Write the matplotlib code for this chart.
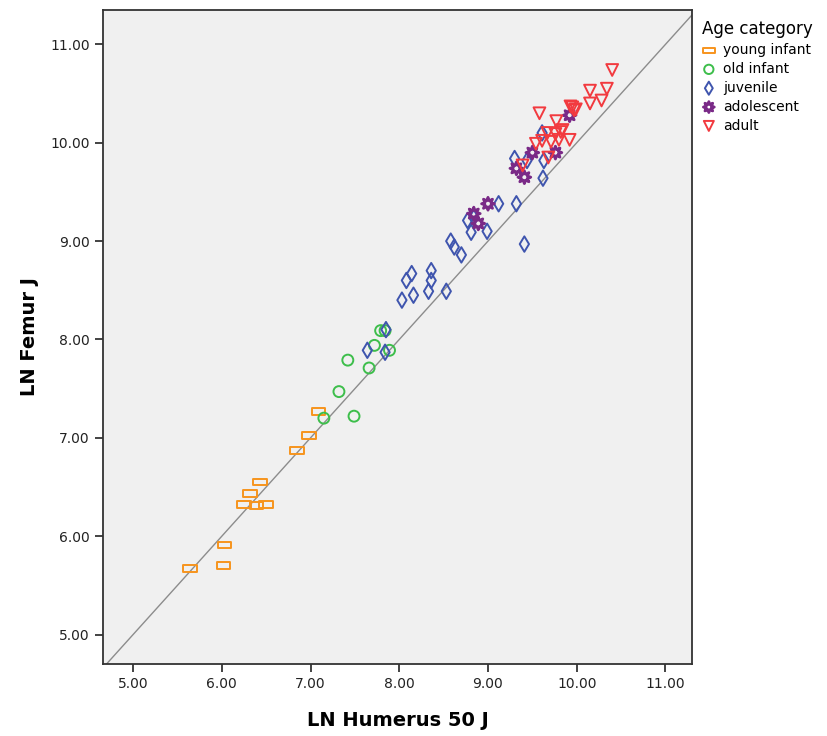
import matplotlib
matplotlib.use("Agg")
import matplotlib.pyplot as plt
from matplotlib.path import Path
import numpy as np

# ---- data (LN Humerus 50 J, LN Femur J) ----
young_infant_x = [6.43, 6.32, 6.25, 6.39, 6.50, 6.03, 6.02, 5.64, 6.85, 6.98, 7.09]
young_infant_y = [6.55, 6.43, 6.32, 6.31, 6.32, 5.91, 5.70, 5.67, 6.87, 7.02, 7.27]

old_infant_x = [7.79, 7.84, 7.72, 7.89, 7.42, 7.66, 7.32, 7.15, 7.49]
old_infant_y = [8.09, 8.09, 7.94, 7.89, 7.79, 7.71, 7.47, 7.20, 7.22]

juvenile_x = [9.12, 9.32, 8.77, 8.81, 8.99, 9.41, 8.58, 8.62, 8.70, 8.14, 8.08, 8.36,
              8.36, 8.33, 8.16, 8.53, 8.03, 7.85, 7.64, 7.84, 9.61, 9.30, 9.44, 9.63,
              9.62, 8.84]
juvenile_y = [9.38, 9.38, 9.21, 9.09, 9.10, 8.97, 9.00, 8.94, 8.86, 8.67, 8.60, 8.70,
              8.60, 8.49, 8.45, 8.49, 8.40, 8.10, 7.89, 7.87, 10.10, 9.84, 9.82, 9.82,
              9.64, 9.24]

adolescent_x = [9.00, 8.84, 8.89, 9.92, 9.50, 9.76, 9.32, 9.41]
adolescent_y = [9.38, 9.28, 9.18, 10.28, 9.90, 9.90, 9.74, 9.65]

adult_x = [10.40, 10.15, 10.34, 10.15, 10.28, 9.95, 9.99, 9.58, 9.77, 9.93, 9.97,
           9.67, 9.76, 9.82, 9.84, 9.54, 9.61, 9.71, 9.80, 9.92, 9.68, 9.39]
adult_y = [10.74, 10.53, 10.55, 10.40, 10.43, 10.36, 10.34, 10.30, 10.22, 10.37, 10.33,
           10.10, 10.09, 10.11, 10.13, 9.99, 10.02, 10.01, 10.03, 10.03, 9.85, 9.77]

categories = ["young infant", "old infant", "juvenile", "adolescent", "adult"]
x_ticks = [5, 6, 7, 8, 9, 10, 11]
y_ticks = [5, 6, 7, 8, 9, 10, 11]

# ---- styles ----
rect_marker = Path([(-1, -0.5), (1, -0.5), (1, 0.5), (-1, 0.5), (-1, -0.5)],
                   [Path.MOVETO, Path.LINETO, Path.LINETO, Path.LINETO, Path.CLOSEPOLY])
styles = [
    dict(marker=rect_marker, color="#F7941D", s=95, lw=1.4),
    dict(marker="o", color="#3DBE4B", s=62, lw=1.4),
    dict(marker="d", color="#3F55AE", s=62, lw=1.4),
    dict(marker=(8, 1, 0), color="#7A2A87", s=85, lw=2.0),
    dict(marker="v", color="#F23A3F", s=72, lw=1.4),
]
series = [(young_infant_x, young_infant_y), (old_infant_x, old_infant_y),
          (juvenile_x, juvenile_y), (adolescent_x, adolescent_y), (adult_x, adult_y)]

fig = plt.figure(figsize=(8.27, 7.36), dpi=100)
ax = fig.add_axes([0.1245, 0.0978, 0.7123, 0.8886])
ax.set_facecolor("#F0F0F0")

xlim = (4.66, 11.30)
ylim = (4.70, 11.35)
lo = min(xlim[0], ylim[0]); hi = max(xlim[1], ylim[1])
ax.plot([lo, hi], [lo, hi], color="#8C8C8C", lw=1.0, zorder=1)

for cat, (xs, ys), st in zip(categories, series, styles):
    ax.scatter(xs, ys, marker=st["marker"], s=st["s"], facecolors="none",
               edgecolors=st["color"], linewidths=st["lw"], label=cat, zorder=3)

ax.set_xlim(*xlim)
ax.set_ylim(*ylim)
ax.set_xticks(x_ticks)
ax.set_yticks(y_ticks)
ax.set_xticklabels([f"{v:.2f}" for v in x_ticks])
ax.set_yticklabels([f"{v:.2f}" for v in y_ticks])
ax.tick_params(direction="out", length=6, width=1.2, labelsize=10, colors="#222222")
for sp in ax.spines.values():
    sp.set_color("#333333")
    sp.set_linewidth(1.3)

ax.set_xlabel("LN Humerus 50 J", fontsize=14, fontweight="bold", labelpad=14)
ax.set_ylabel("LN Femur J", fontsize=14, fontweight="bold", labelpad=8)

leg = fig.legend(loc="upper left", bbox_to_anchor=(0.842, 0.98), frameon=False,
                 title="Age category", fontsize=10, title_fontsize=12,
                 handlelength=1.0, handletextpad=0.5, labelspacing=0.35,
                 borderaxespad=0, alignment="left", markerscale=0.85)

fig.savefig("out.png", dpi=100)
